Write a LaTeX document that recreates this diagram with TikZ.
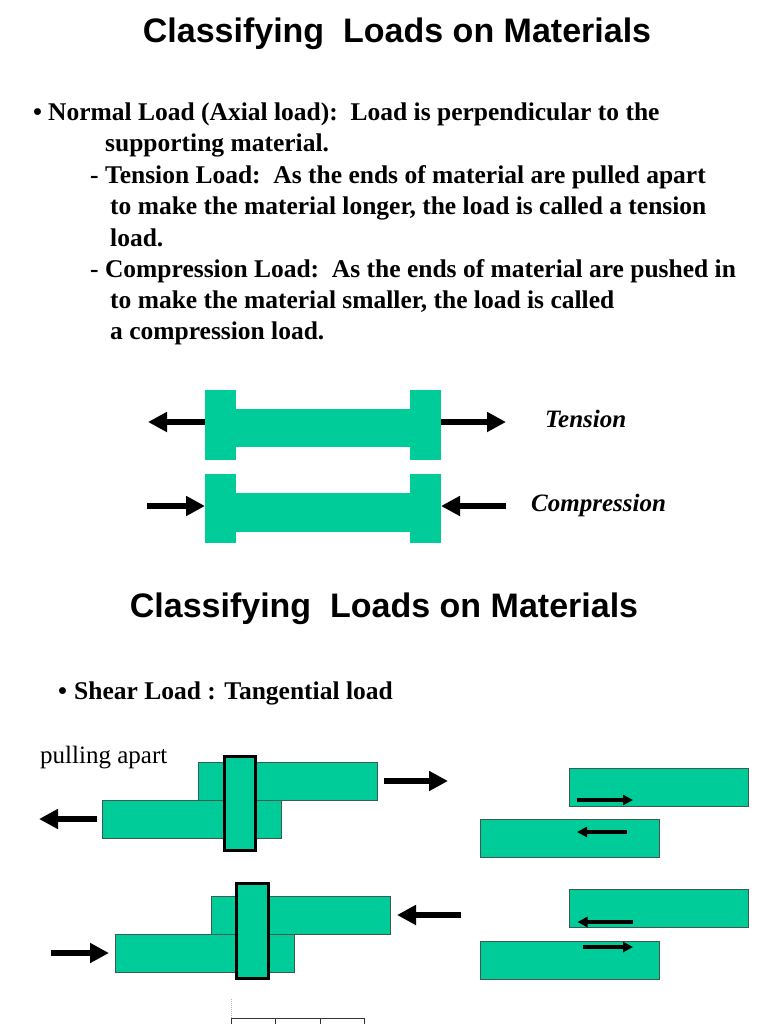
\documentclass[tikz,border=0pt]{standalone}
\usepackage{fontspec}
\setmainfont{Liberation Serif}
\newfontfamily\titlefont{Liberation Sans}
\usetikzlibrary{arrows.meta}

\definecolor{platecol}{RGB}{0,204,153}
\definecolor{edgecol}{RGB}{60,90,80}

\begin{document}
\begin{tikzpicture}[x=1pt,y=-1pt,
    title/.style={font=\titlefont\bfseries\fontsize{34}{40}\selectfont, inner sep=0pt, anchor=base},
    body/.style={font=\bfseries\fontsize{25.5}{31}\selectfont, inner sep=0pt, anchor=base west},
    label/.style={font=\bfseries\itshape\fontsize{25}{30}\selectfont, inner sep=0pt, anchor=base west},
    solid/.style={fill=platecol, inner sep=0pt, outer sep=0pt},
    plate/.style={fill=platecol, draw=edgecol, line width=0.9pt, inner sep=0pt, outer sep=0pt,
      minimum width=179, minimum height=38},
    rivet/.style={fill=platecol, draw=black, line width=2.6pt, inner sep=0pt, outer sep=0pt,
      minimum width=31.5, minimum height=94.5},
    force/.style={line width=6pt, -{Triangle[length=19pt,width=19pt]}},
    slide/.style={line width=3.2pt, -{Triangle[length=10pt,width=10pt]}}]

        \useasboundingbox (0,0) rectangle (768,1024);

        % first slide
        \node[title] (t1) at (397,43) {Classifying\ \ Loads on Materials};

        \begin{scope}[every node/.style={body}]
          \node (b1) at (33,121)  {\textbullet};
          \node (l1) at (48,121)  {Normal Load (Axial load):\ \ Load is perpendicular to the};
          \node (l2) at (105,152) {supporting material.};
          \node (l3) at (90,183.5) {- Tension Load:\ \ As the ends of material are pulled apart};
          \node (l4) at (110,214.5) {to make the material longer, the load is called a tension};
          \node (l5) at (110,246) {load.};
          \node (l6) at (90,277) {- Compression Load:\ \ As the ends of material are pushed in};
          \node (l7) at (110,308) {to make the material smaller, the load is called};
          \node (l8) at (110,339) {a compression load.};
        \end{scope}

        % tension specimen
        \begin{scope}[every node/.style={solid}]
          \node[minimum width=31, minimum height=70] (tgl) at (220.5,425) {};
          \node[minimum width=31, minimum height=70] (tgr) at (425.5,425) {};
          \node[minimum width=176, minimum height=38] (tbar) at (323,428) {};
          \node[minimum width=31, minimum height=69] (cgl) at (220.5,508.5) {};
          \node[minimum width=31, minimum height=69] (cgr) at (425.5,508.5) {};
          \node[minimum width=176, minimum height=39] (cbar) at (323,512.5) {};
        \end{scope}

        \coordinate (ta) at (148,422);
        \coordinate (tb) at (506,422);
        \coordinate (ca) at (147,506);
        \coordinate (cb) at (506,506);
        \draw[force] (tgl.west |- ta) -- (ta);
        \draw[force] (tgr.east |- tb) -- (tb);
        \draw[force] (ca) -- (cgl.west |- ca);
        \draw[force] (cb) -- (cgr.east |- cb);

        \node[label] (tl) at (545,427) {Tension};
        \node[label] (cl) at (531,511) {Compression};

        % second slide
        \node[title] (t2) at (384,617) {Classifying\ \ Loads on Materials};
        \node[body] (b2) at (58,699) {\textbullet};
        \node[body] (s1) at (74,699) {Shear Load : Tangential load};
        \node[font=\fontsize{25}{30}\selectfont, inner sep=0pt, anchor=base west] (pa) at (40,763) {pulling apart};

        % riveted joints
        \node[plate] (pt1) at (288,781) {};
        \node[plate] (pb1) at (192,819) {};
        \node[rivet] (r1) at (240,803.5) {};
        \node[plate] (pt2) at (300.5,915) {};
        \node[plate] (pb2) at (204.5,953) {};
        \node[rivet] (r2) at (252.5,931) {};

        \coordinate (a1) at (448,781);
        \coordinate (a2) at (39,819);
        \coordinate (a3) at (51,953);
        \coordinate (a4) at (461,915);
        \draw[force] ([xshift=6]pt1.east |- a1) -- (a1);
        \draw[force] ([xshift=-6]pb1.west |- a2) -- (a2);
        \draw[force] (a3) -- ([xshift=-6]pb2.west |- a3);
        \draw[force] (a4) -- ([xshift=7]pt2.east |- a4);

        % sliding layers
        \node[plate] (qt1) at (659,787) {};
        \node[plate] (qb1) at (569.5,838) {};
        \node[plate] (qt2) at (659,908.5) {};
        \node[plate] (qb2) at (569.5,960) {};

        \draw[slide] ([xshift=7]qt1.west |- 0,800) -- (633,800);
        \draw[slide] (627,832) -- (577,832);
        \draw[slide] (633,922) -- ([xshift=8]qt2.west |- 0,922);
        \draw[slide] (583,947) -- (633,947);

        % cut-off table
        \coordinate (c0) at (231,1018);
        \draw[gray!60, densely dotted, line width=1pt] (c0) -- (231,998);
        \draw[black!80, line width=1pt] (231,1024) -- (c0) -- (364,1018) -- (364,1024);
        \draw[black!80, line width=1pt] (275,1018) -- (275,1024);
        \draw[black!80, line width=1pt] (320,1018) -- (320,1024);

      \end{tikzpicture}
\end{document}
